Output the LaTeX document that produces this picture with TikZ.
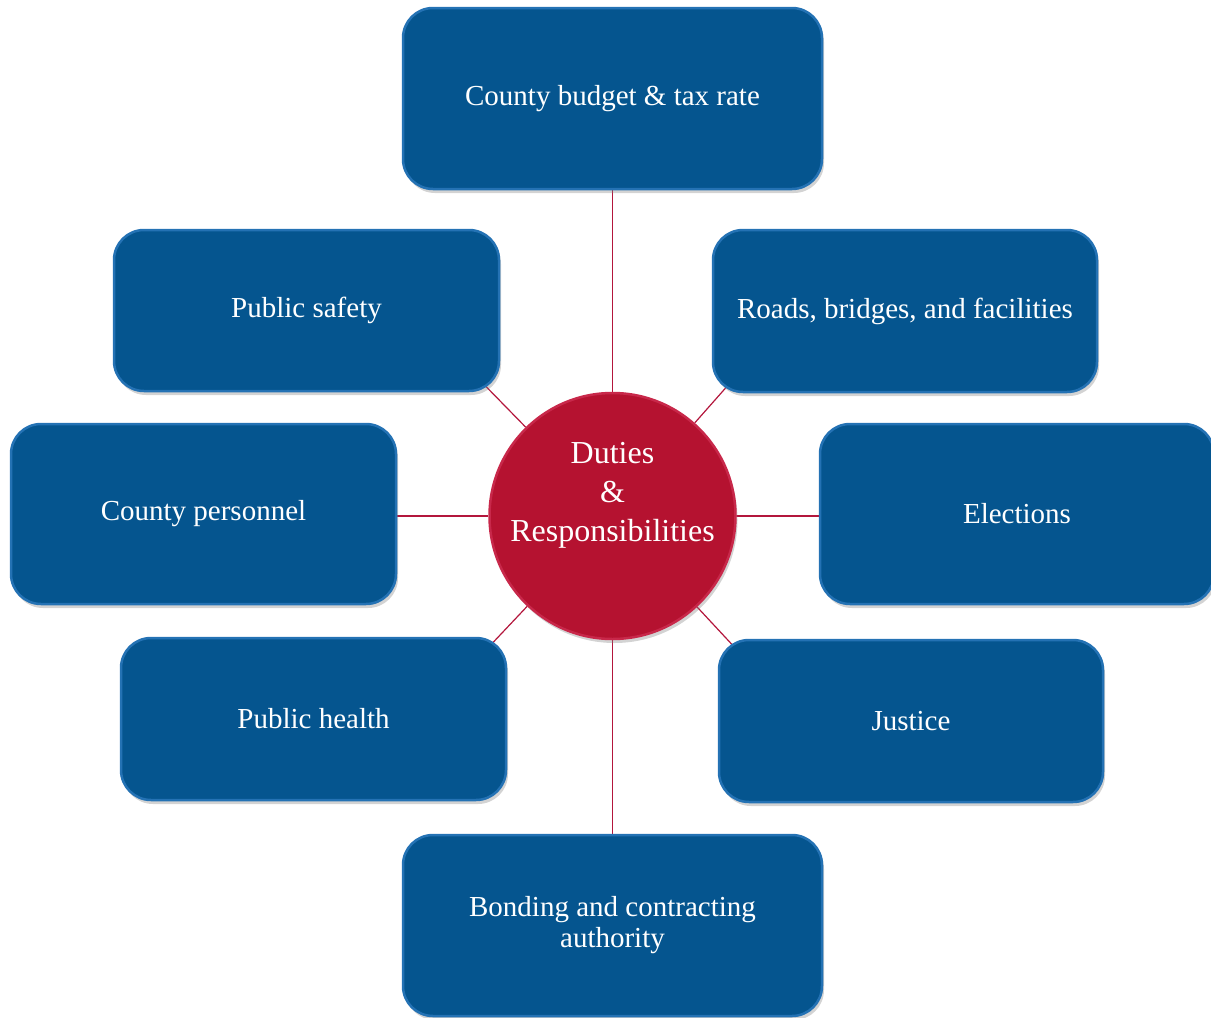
\documentclass[tikz,border=0pt]{standalone}
\usepackage{fontspec}
\setmainfont{Liberation Serif}
\usetikzlibrary{shadows,backgrounds,calc}
\definecolor{boxblue}{HTML}{05558F}
\definecolor{boxedge}{HTML}{2472B4}
\definecolor{hubred}{HTML}{B51230}
\definecolor{hubedge}{HTML}{C8284A}
\definecolor{linkred}{HTML}{B3163C}
\begin{document}
\begin{tikzpicture}[x=1pt,y=-1pt,
  topic/.style={rounded corners=30pt, fill=boxblue, draw=boxedge, line width=2.5pt,
    text=white, font=\fontsize{29}{31}\selectfont, align=center, inner sep=0pt,
    drop shadow={opacity=0.35, shadow xshift=2pt, shadow yshift=-4pt}},
  hubstyle/.style={circle, fill=hubred, draw=hubedge, line width=2.5pt, inner sep=0pt,
    minimum size=246pt, drop shadow={opacity=0.35, shadow xshift=2pt, shadow yshift=-4pt}},
  hubtext/.style={text=white, font=\fontsize{32}{39}\selectfont, align=center, inner sep=0pt},
  link/.style={draw=linkred, line width=1.2pt}]
\useasboundingbox (0,0) rectangle (1211,1018);

\node[topic, minimum width=419pt, minimum height=181pt] (budget) at (612.5,98.5) {County budget \& tax rate};
\node[topic, minimum width=385pt, minimum height=161pt] (safety) at (306.5,310.5) {Public safety};
\node[topic, minimum width=384pt, minimum height=162pt] (roads) at (905,311) {Roads, bridges, and facilities};
\node[topic, minimum width=385pt, minimum height=180pt] (personnel) at (203.5,514) {County personnel};
\node[topic, minimum width=394pt, minimum height=180pt] (elections) at (1017,514) {Elections};
\node[topic, minimum width=385pt, minimum height=162pt] (health) at (313.5,719) {Public health};
\node[topic, minimum width=384pt, minimum height=162pt] (justice) at (911,721) {Justice};
\node[topic, minimum width=419pt, minimum height=181pt] (bonding) at (612.5,925.5) {Bonding and contracting\\authority};

\node[hubstyle] (hub) at (612.5,516) {};
\node[hubtext] (hubt) at (612.5,495) {Duties\\\&\\Responsibilities};

\begin{scope}[on background layer]
  \draw[link] (hub) -- (budget);
  \draw[link] (hub) -- (bonding);
  \draw[link] (hub.west) -- (personnel.east |- hub.west);
  \draw[link] (hub.east) -- (elections.west |- hub.east);
  \draw[link] (hub) -- ($(safety.south east)!16pt!(safety.center)$);
  \draw[link] (hub) -- ($(roads.south west)!16pt!(roads.center)$);
  \draw[link] (hub) -- ($(health.north east)!16pt!(health.center)$);
  \draw[link] (hub) -- ($(justice.north west)!16pt!(justice.center)$);
\end{scope}
\end{tikzpicture}
\end{document}
